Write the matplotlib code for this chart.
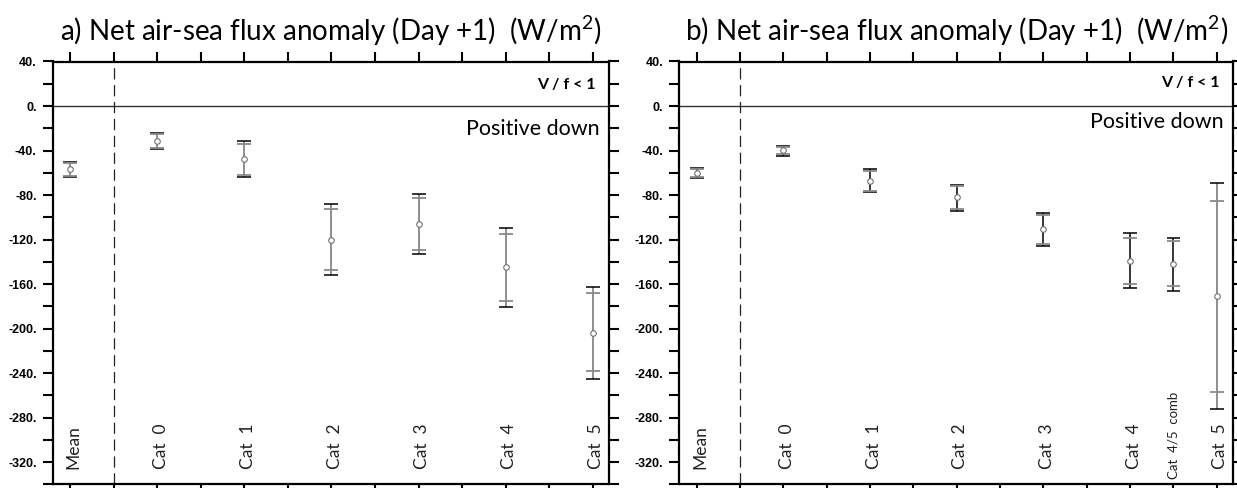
import matplotlib
matplotlib.use("Agg")
import matplotlib.pyplot as plt
from matplotlib.ticker import FixedLocator, FixedFormatter

plt.rcParams["axes.unicode_minus"] = False
plt.rcParams["mathtext.fontset"] = "custom"
plt.rcParams["mathtext.rm"] = "Lato"

# panel a: all categories
labels_a = ["Mean", "Cat 0", "Cat 1", "Cat 2", "Cat 3", "Cat 4", "Cat 5"]
xpos_a = [1, 3, 5, 7, 9, 11, 13]
mean_a = [-57, -31.5, -48, -120, -106, -145, -204]
outer_hi_a = [-50, -24.3, -31.5, -88.3, -79.1, -109.6, -162.4]
outer_lo_a = [-64, -38.7, -64, -151.5, -133.3, -181, -245]
inner_hi_a = [-51, -25, -34.4, -93, -83, -115, -168]
inner_lo_a = [-63, -38, -61.7, -147, -129, -175.2, -238.5]

# panel b: with the combined 4/5 group
labels_b = ["Mean", "Cat 0", "Cat 1", "Cat 2", "Cat 3", "Cat 4", "Cat 4/5 comb", "Cat 5"]
xpos_b = [1, 3, 5, 7, 9, 11, 12, 13]
mean_b = [-60, -39.7, -67, -82.2, -110.7, -138.9, -141.8, -170.9]
outer_hi_b = [-56, -35.5, -57, -70.8, -96.3, -114.3, -118.2, -69]
outer_lo_b = [-64.5, -44.5, -77, -94.5, -126, -163.4, -166.1, -272.5]
inner_hi_b = [-57, -36.5, -58, -72.3, -97.8, -118.2, -121.2, -85.5]
inner_lo_b = [-63.5, -43.5, -76, -92.7, -124.2, -159.8, -162.2, -256.6]

ytick_vals = list(range(-320, 41, 40))
ytick_labels = [f"{v}." for v in ytick_vals]

W, H = 1237, 488
fig = plt.figure(figsize=(W / 100, H / 100), dpi=100)
ax_a = fig.add_axes([52.7 / W, 3.7 / H, 556.6 / W, 422.8 / H])
ax_b = fig.add_axes([679.3 / W, 3.7 / H, 554 / W, 422.8 / H])

GRAY = "#707070"


def draw_panel(ax, title, xs, labels, mean, ohi, olo, ihi, ilo, line_cols,
               vf_y, pos_y):
    for i, x in enumerate(xs):
        m = mean[i]
        # outer interval (black caps)
        ax.errorbar([x], [m], yerr=[[m - olo[i]], [ohi[i] - m]], fmt="none",
                    ecolor=line_cols[i], elinewidth=1.1, capsize=0)
        ax.plot([x - 0.16, x + 0.16], [olo[i], olo[i]], color="black", lw=1.1,
                solid_capstyle="butt")
        ax.plot([x - 0.16, x + 0.16], [ohi[i], ohi[i]], color="black", lw=1.1,
                solid_capstyle="butt")
        # inner interval (gray caps)
        ax.plot([x - 0.16, x + 0.16], [ilo[i], ilo[i]], color="#8a8a8a", lw=1.3,
                solid_capstyle="butt")
        ax.plot([x - 0.16, x + 0.16], [ihi[i], ihi[i]], color="#8a8a8a", lw=1.3,
                solid_capstyle="butt")
        ax.plot([x], [m], marker="o", ms=4, mfc="white", mec=GRAY, mew=0.8)

    for x, lab in zip(xs, labels):
        if "comb" in lab:
            ax.text(x, -335, lab.replace(" ", "  "), rotation=90, ha="center",
                    va="bottom", fontsize=9.5, family="Lato",
                    color="#222222")
        else:
            ax.text(x + 0.08, -326, lab.replace(" ", "  "), rotation=90,
                    ha="center", va="bottom", fontsize=12.5,
                    family="Lato", color="#222222")

    ax.axhline(0, color="#333333", lw=1.0)
    ax.axvline(2, color="#222222", lw=0.9, dashes=(9, 4.5))

    ax.set_xlim(0.6, 13.38)
    ax.set_ylim(-340, 40)
    ax.xaxis.set_major_locator(FixedLocator(list(range(1, 14))))
    ax.set_xticklabels([])
    ax.yaxis.set_major_locator(FixedLocator(ytick_vals))
    ax.yaxis.set_major_formatter(FixedFormatter(ytick_labels))
    ax.yaxis.set_minor_locator(FixedLocator(list(range(-340, 41, 40))))
    ax.tick_params(which="both", direction="out", length=7.5, width=1.5,
                   top=True, right=True, bottom=True, left=True,
                   labelsize=9, pad=4)
    for lab in ax.get_yticklabels():
        lab.set_fontweight("bold")
        lab.set_family("Liberation Sans")
    for s in ax.spines.values():
        s.set_linewidth(1.6)

    ax.text(0.975, vf_y, "V / f < 1", transform=ax.transAxes, ha="right",
            va="center", fontsize=11.5, fontweight="bold", family="Lato")
    ax.text(0.982, pos_y, "Positive down", transform=ax.transAxes, ha="right",
            va="center", fontsize=15.5, family="Lato")
    ax.set_title(title, fontsize=20, family="Lato", pad=15)


draw_panel(ax_a, "a) Net air-sea flux anomaly (Day +1)  (W/m$^2$)", xpos_a,
           labels_a, mean_a, outer_hi_a, outer_lo_a, inner_hi_a, inner_lo_a,
           [GRAY] * 7, 0.944, 0.840)
draw_panel(ax_b, "b) Net air-sea flux anomaly (Day +1)  (W/m$^2$)", xpos_b,
           labels_b, mean_b, outer_hi_b, outer_lo_b, inner_hi_b, inner_lo_b,
           ["black"] * 7 + [GRAY], 0.948, 0.857)

fig.savefig("out.png", dpi=100)
